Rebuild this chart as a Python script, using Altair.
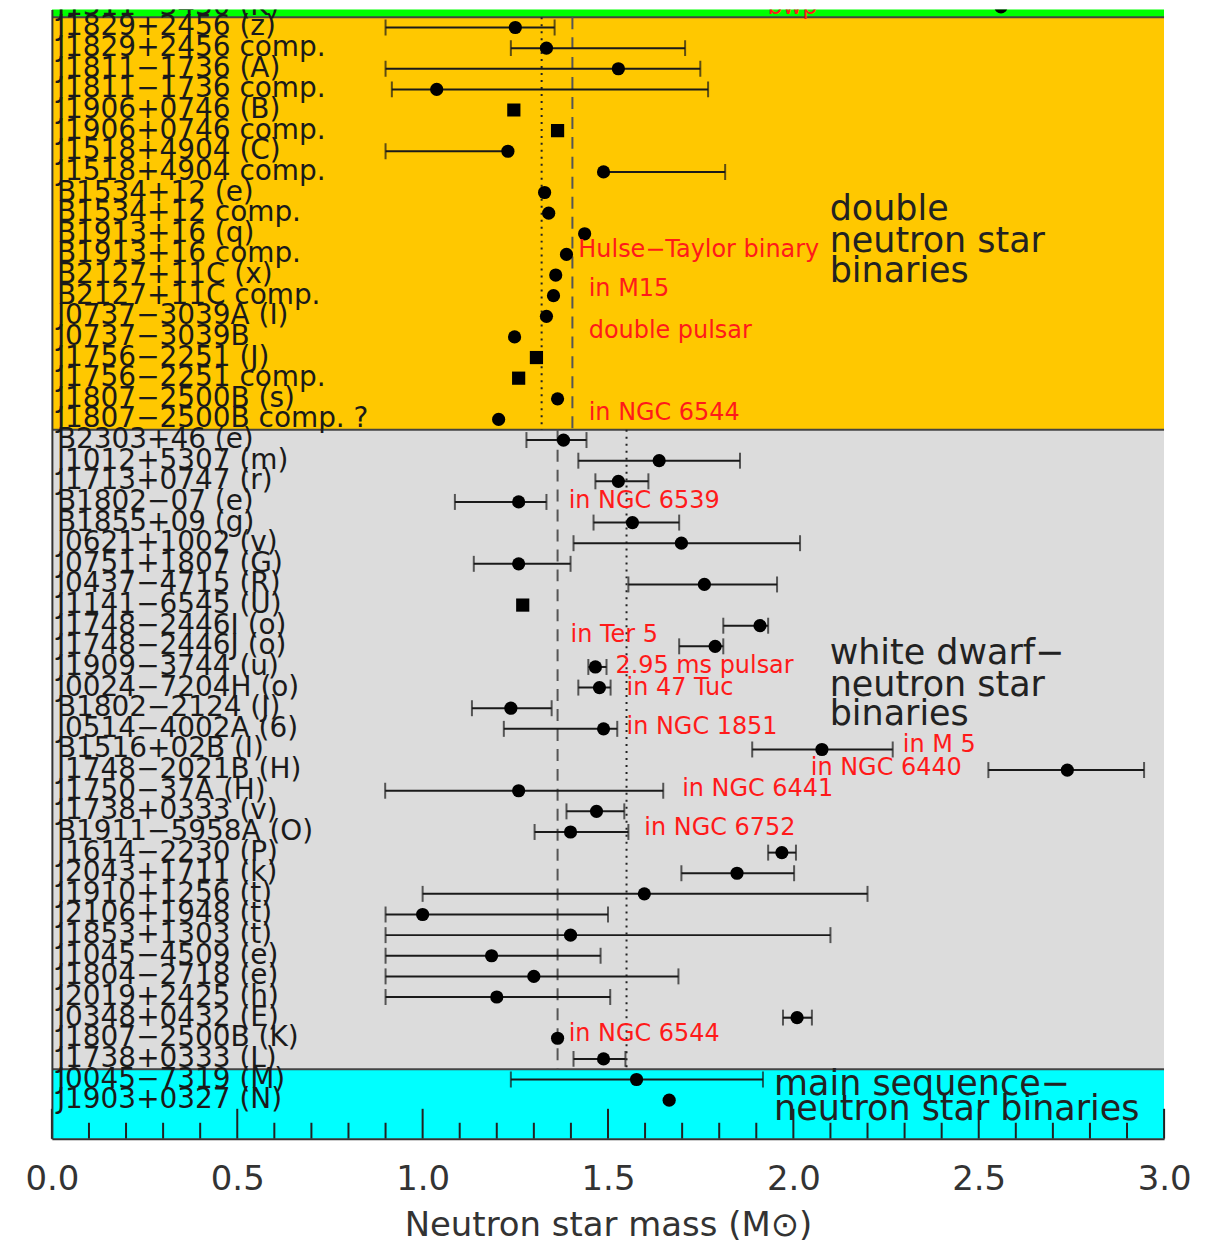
import altair as alt
import pandas as pd

M = "\u2212"
FONT = "DejaVu Sans"

# ---------------- data ----------------
names = [
    f"J1311{M}3430 (K)",
    "J1829+2456 (z)", "J1829+2456 comp.", f"J1811{M}1736 (A)", f"J1811{M}1736 comp.",
    "J1906+0746 (B)", "J1906+0746 comp.", "J1518+4904 (C)", "J1518+4904 comp.",
    "B1534+12 (e)", "B1534+12 comp.", "B1913+16 (q)", "B1913+16 comp.",
    "B2127+11C (x)", "B2127+11C comp.", f"J0737{M}3039A (I)", f"J0737{M}3039B",
    f"J1756{M}2251 (J)", f"J1756{M}2251 comp.", f"J1807{M}2500B (s)", f"J1807{M}2500B comp. ?",
    "B2303+46 (e)", "J1012+5307 (m)", "J1713+0747 (r)", f"B1802{M}07 (e)", "B1855+09 (g)",
    "J0621+1002 (v)", "J0751+1807 (G)", f"J0437{M}4715 (R)", f"J1141{M}6545 (U)",
    f"J1748{M}2446I (o)", f"J1748{M}2446J (o)", f"J1909{M}3744 (u)", f"J0024{M}7204H (o)",
    f"B1802{M}2124 (J)", f"J0514{M}4002A (6)", "B1516+02B (I)", f"J1748{M}2021B (H)",
    f"J1750{M}37A (H)", "J1738+0333 (v)", f"B1911{M}5958A (O)", f"J1614{M}2230 (P)",
    "J2043+1711 (k)", "J1910+1256 (t)", "J2106+1948 (t)", "J1853+1303 (t)",
    f"J1045{M}4509 (e)", f"J1804{M}2718 (e)", "J2019+2425 (h)", "J0348+0432 (E)",
    f"J1807{M}2500B (K)", "J1738+0333 (L)",
    f"J0045{M}7319 (M)", "J1903+0327 (N)",
]
mass = [
    2.56,
    1.25, 1.334, 1.528, 1.038, 1.246, 1.364, 1.23, 1.488,
    1.329, 1.340, 1.437, 1.388, 1.359, 1.353, 1.334, 1.248,
    1.307, 1.259, 1.364, 1.205,
    1.38, 1.638, 1.528, 1.259, 1.566, 1.698, 1.259, 1.760, 1.27,
    1.91, 1.789, 1.466, 1.477, 1.238, 1.488, 2.077, 2.739,
    1.259, 1.469, 1.399, 1.969, 1.848, 1.598, 1.0, 1.399,
    1.186, 1.30, 1.20, 2.01, 1.364, 1.488,
    1.577, 1.665,
]
err_lo = [
    None,
    0.90, 1.238, 0.90, 0.917, None, None, 0.90, None,
    None, None, None, None, None, None, None, None,
    None, None, None, None,
    1.28, 1.42, 1.466, 1.087, 1.461, 1.407, 1.138, 1.555, None,
    1.811, 1.692, 1.447, 1.42, 1.133, 1.219, 1.889, 2.526,
    0.899, 1.388, 1.302, 1.932, 1.698, 1.0, 0.9, 0.9,
    0.9, 0.9, 0.9, 1.972, None, 1.407,
    1.238, None,
]
err_hi = [
    None,
    1.356, 1.708, 1.749, 1.770, None, None, None, 1.816,
    None, None, None, None, None, None, None, None,
    None, None, None, None,
    1.442, 1.856, 1.609, 1.334, 1.692, 2.018, 1.399, 1.956, None,
    1.932, 1.811, 1.496, 1.507, 1.348, 1.525, 2.268, 2.946,
    1.649, 1.544, 1.555, 2.007, 2.002, 2.2, 1.5, 2.10,
    1.48, 1.69, 1.506, 2.05, None, 1.547,
    1.918, None,
]
square_rows = [5, 6, 17, 18, 29]

band_start = [-1.0, 0.5, 20.5, 51.5]
band_end = [0.5, 20.5, 51.5, 56.0]
band_color = ["#00FF00", "#FFC800", "#DCDCDC", "#00FFFF"]
band_edges = [0.5, 20.5, 51.5]

mean_mass = [1.321, 1.404, 1.364, 1.55]
mean_from = [0.5, 0.5, 20.5, 20.5]
mean_to = [20.5, 20.5, 51.5, 51.5]
mean_dotted = [True, False, False, True]

note_text = ["bwp", "Hulse\u2212Taylor binary", "in M15", "double pulsar", "in NGC 6544",
             "in NGC 6539", "in Ter 5", "2.95 ms pulsar", "in 47 Tuc", "in NGC 1851",
             "in M 5", "in NGC 6440", "in NGC 6441", "in NGC 6752", "in NGC 6544"]
note_x = [1.93, 1.42, 1.448, 1.448, 1.448,
          1.394, 1.399, 1.52, 1.55, 1.55,
          2.295, 2.047, 1.70, 1.598, 1.394]
note_row = [0.0, 11.78, 13.67, 15.7, 19.67,
            23.97, 30.45, 31.95, 33.0, 34.9,
            35.8, 36.88, 37.9, 39.83, 49.8]

group_text = ["double", "neutron  star", "binaries",
              f"white dwarf{M}", "neutron star", "binaries",
              f"main sequence{M}", "neutron star binaries"]
group_x = [2.098, 2.098, 2.098, 2.098, 2.098, 2.098, 1.948, 1.948]
group_row = [9.8, 11.35, 12.8, 31.32, 32.87, 34.27, 52.21, 53.42]

x_labels = [0.0, 0.5, 1.0, 1.5, 2.0, 2.5, 3.0]
minor_ticks = [0.1, 0.2, 0.3, 0.4, 0.6, 0.7, 0.8, 0.9, 1.1, 1.2, 1.3, 1.4,
               1.6, 1.7, 1.8, 1.9, 2.1, 2.2, 2.3, 2.4, 2.6, 2.7, 2.8, 2.9]
major_ticks = [0.0, 0.5, 1.0, 1.5, 2.0, 2.5, 3.0]

# ---------------- tables ----------------
rows = list(range(len(names)))
pts = pd.DataFrame({
    "row": rows, "name": names, "m": mass,
    "marker": ["square" if r in square_rows else "circle" for r in rows],
})
err = pd.DataFrame([
    {"row": r, "a": (lo if lo is not None else m), "b": (hi if hi is not None else m)}
    for r, m, lo, hi in zip(rows, mass, err_lo, err_hi) if lo is not None or hi is not None
])
caps = pd.DataFrame(
    [{"row": r, "c": lo} for r, lo in zip(rows, err_lo) if lo is not None]
    + [{"row": r, "c": hi} for r, hi in zip(rows, err_hi) if hi is not None]
)
bands = pd.DataFrame({"x0": 0.0, "x1": 3.0, "y0": band_start, "y1": band_end, "col": band_color})
edges = pd.DataFrame({"y": band_edges})
means = pd.DataFrame({"m": mean_mass, "y0": mean_from, "y1": mean_to, "dotted": mean_dotted})
notes = pd.DataFrame({"t": note_text, "x": note_x, "row": note_row})
groups = pd.DataFrame({"t": group_text, "x": group_x, "row": group_row})
minors = pd.DataFrame({"t": minor_ticks})
majors = pd.DataFrame({"t": major_ticks})

W, H = 1115, 1132
xs = alt.Scale(domain=[0, 3], nice=False, zero=False)
ys = alt.Scale(domain=[0.13, 54.87], reverse=True, nice=False, zero=False)

XT = "Neutron star mass (M\u2299)"
x_axis = alt.Axis(
    values=x_labels, format=".1f", labelFont=FONT, labelFontSize=34, labelColor="#333",
    labelFlush=False, labelOverlap=False, ticks=False, tickSize=0, grid=False,
    domain=True, domainColor="#333", domainWidth=2, labelPadding=24,
    title=XT, titleFont=FONT, titleFontSize=34,
    titleFontWeight="normal", titleColor="#333", titlePadding=12, zindex=1,
)
y_axis = alt.Axis(labels=False, ticks=False, grid=False, domain=True,
                  domainColor="#333", domainWidth=2, title="", zindex=1)


def X(field):
    return alt.X(field, scale=xs, axis=x_axis, title=XT)


def Y(field):
    return alt.Y(field, scale=ys, axis=y_axis, title="")


band_layer = alt.Chart(bands).mark_rect(clip=True).encode(
    x=X("x0:Q"), x2="x1", y=Y("y0:Q"), y2="y1",
    color=alt.Color("col:N", scale=None),
)
edge_layer = alt.Chart(edges).mark_rule(color="#444", strokeWidth=2, clip=True).encode(
    y=Y("y:Q"))

dotted_layer = alt.Chart(means).transform_filter("datum.dotted").mark_rule(
    color="#222", strokeWidth=2, strokeDash=[2, 5], clip=True).encode(
    x=X("m:Q"), y=Y("y0:Q"), y2="y1")
dashed_layer = alt.Chart(means).transform_filter("!datum.dotted").mark_rule(
    color="#555", strokeWidth=2, strokeDash=[12, 8], clip=True).encode(
    x=X("m:Q"), y=Y("y0:Q"), y2="y1")

minor_layer = alt.Chart(minors).mark_rule(color="#222", strokeWidth=2).encode(
    x=X("t:Q"), y=alt.value(H), y2=alt.value(H - 16))
major_layer = alt.Chart(majors).mark_rule(color="#222", strokeWidth=2).encode(
    x=X("t:Q"), y=alt.value(H), y2=alt.value(H - 30))

err_layer = alt.Chart(err).mark_rule(color="#1a1a1a", strokeWidth=2, clip=True).encode(
    x=X("a:Q"), x2="b", y=Y("row:Q"))
cap_layer = alt.Chart(caps).mark_tick(orient="vertical", size=16, thickness=2,
                                      color="#1a1a1a", clip=True).encode(
    x=X("c:Q"), y=Y("row:Q"))
pt_layer = alt.Chart(pts).mark_point(filled=True, size=175, opacity=1, color="black",
                                     clip=True).encode(
    x=X("m:Q"), y=Y("row:Q"),
    shape=alt.Shape("marker:N", scale=alt.Scale(domain=["circle", "square"],
                                                range=["circle", "square"]), legend=None),
)
label_layer = alt.Chart(pts).mark_text(align="left", baseline="middle", font=FONT,
                                       fontSize=28, color="#1a1a1a", clip=True).encode(
    x=alt.value(5), y=Y("row:Q"), text="name:N")
note_layer = alt.Chart(notes).mark_text(align="left", baseline="middle", font=FONT,
                                        fontSize=24, color="#FF1A1A", clip=True).encode(
    x=X("x:Q"), y=Y("row:Q"), text="t:N")
group_layer = alt.Chart(groups).mark_text(align="left", baseline="middle", font=FONT,
                                          fontSize=35, color="#222", clip=True).encode(
    x=X("x:Q"), y=Y("row:Q"), text="t:N")

chart = alt.layer(
    band_layer, edge_layer, dotted_layer, dashed_layer, minor_layer, major_layer,
    err_layer, cap_layer, pt_layer, label_layer, note_layer, group_layer,
).properties(
    width=W, height=H,
    padding={"left": 44, "top": 0, "right": 40, "bottom": 112},
    autosize=alt.AutoSizeParams(type="none"),
    background="white",
).configure_view(stroke=None)

chart.save("out.html", embed_options={"renderer": "svg", "actions": False})
